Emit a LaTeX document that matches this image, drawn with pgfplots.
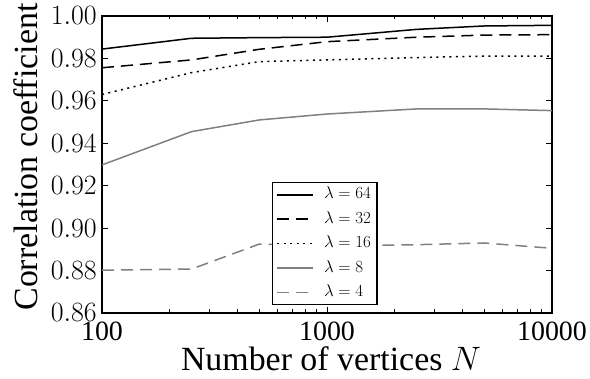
\RequirePackage{fix-cm}
\documentclass[border=0pt]{standalone}
\usepackage[no-math]{fontspec}
\setmainfont{Liberation Serif}
\usepackage{pgfplots}
\pgfplotsset{compat=1.18}
\definecolor{mgray}{HTML}{808080}
\begin{document}
\begin{tikzpicture}
\begin{semilogxaxis}[
  name=ax,
  scale only axis,
  width=450bp, height=297bp,
  xmin=100, xmax=10000,
  ymin=0.86, ymax=1.00,
  xtick={100,1000,10000},
  xticklabels={100,1000,10000},
  minor xtick={200,300,400,500,600,700,800,900,2000,3000,4000,5000,6000,7000,8000,9000},
  ytick={0.86,0.88,0.90,0.92,0.94,0.96,0.98,1.00},
  yticklabel style={/pgf/number format/fixed, /pgf/number format/fixed zerofill, /pgf/number format/precision=2},
  tick align=inside,
  major tick length=6bp,
  minor tick length=3.5bp,
  every tick/.style={black, line width=0.8bp},
  axis line style={line width=1.2bp},
  tick label style={font=\fontsize{28}{30}\selectfont},
  xticklabel style={inner sep=0pt, yshift=-9bp},
  yticklabel style={inner sep=0pt, xshift=-5bp},
  xlabel={Number of vertices $N$},
  ylabel={Correlation coefficient},
  label style={font=\fontsize{34}{36}\selectfont},
  xlabel style={at={(axis description cs:0.509,-0.194)}, anchor=base, inner sep=0pt},
  ylabel style={at={(axis description cs:-0.1444,0.525)}, anchor=base, inner sep=0pt},
  legend cell align=left,
  legend image code/.code={\draw[#1] (0bp,0bp) -- (36bp,0bp);},
  legend style={at={(axis description cs:0.3778,0.0269)}, anchor=south west,
    draw=black, line width=1.2bp,
    inner xsep=4bp, inner ysep=2bp, row sep=4.4bp, column sep=8bp,
    nodes={font=\fontsize{17}{20}\selectfont, text height=12bp, text depth=4bp, inner sep=2bp}},
]
\addplot[black, line width=1.5bp] coordinates {(100,0.9844) (250,0.9895) (500,0.9898) (1000,0.9900) (2500,0.9937) (5000,0.9953) (10000,0.9956)};
\addlegendentry{\fontsize{17}{20}\selectfont$\lambda = 64$}
\addplot[black, line width=1.5bp, dash pattern=on 12bp off 7bp] coordinates {(100,0.9756) (250,0.9793) (500,0.9843) (1000,0.9879) (2500,0.9900) (5000,0.9910) (10000,0.9912)};
\addlegendentry{\fontsize{17}{20}\selectfont$\lambda = 32$}
\addplot[black, line width=1.5bp, dash pattern=on 2bp off 4.5bp] coordinates {(100,0.9630) (250,0.9733) (500,0.9785) (1000,0.9793) (2500,0.9804) (5000,0.9811) (10000,0.9811)};
\addlegendentry{\fontsize{17}{20}\selectfont$\lambda = 16$}
\addplot[mgray, line width=1.5bp] coordinates {(100,0.9298) (250,0.9455) (500,0.9510) (1000,0.9538) (2500,0.9562) (5000,0.9562) (10000,0.9554)};
\addlegendentry{\fontsize{17}{20}\selectfont$\lambda = 8$}
\addplot[mgray, line width=1.5bp, dash pattern=on 12bp off 7bp] coordinates {(100,0.8802) (250,0.8807) (500,0.8925) (1000,0.8915) (2500,0.8922) (5000,0.8930) (10000,0.8905)};
\addlegendentry{\fontsize{17}{20}\selectfont$\lambda = 4$}
\end{semilogxaxis}
\pgfresetboundingbox
\path ([shift={(-102bp,-66bp)}]ax.south west) rectangle ([shift={(488bp,313bp)}]ax.south west);
\end{tikzpicture}
\end{document}
